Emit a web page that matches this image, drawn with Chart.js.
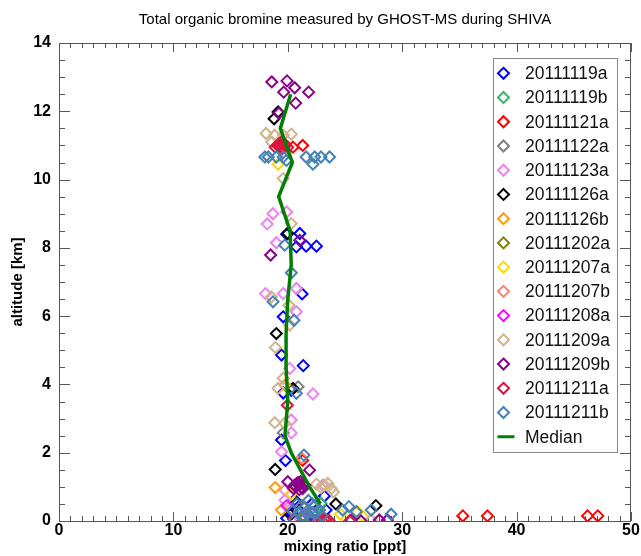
<!DOCTYPE html>
<html>
<head>
<meta charset="utf-8">
<script src="https://cdn.jsdelivr.net/npm/chart.js@4.4.1/dist/chart.umd.min.js"></script>
<style>
  html, body { margin: 0; padding: 0; background: #fff; }
</style>
</head>
<body>
<canvas id="chart" width="641" height="556"></canvas>
<script>
// Flight data, [mixing ratio ppt, altitude km]
const s19a = [[19.9,8.4],[21.05,8.42],[20.75,8.03],[21.6,8.05],[22.5,8.05],[21.25,6.65],[19.6,5.98],[19.45,4.86],[21.35,4.55],[19.6,3.75],[20.3,3.83],[19.45,2.37],[19.8,1.77],[20.6,0.62],[23.2,0.73],[23.35,0.32],[20.35,0.22],[21.5,0.1],[20.9,0.35],[19.9,0.08],[22.1,0.5]];
const s19b = [[22.9,0.52],[22.6,0.2]];
const s21a = [[21.3,11.0],[20.45,10.95],[21.3,1.78],[35.3,0.15],[37.45,0.15],[46.2,0.15],[47.1,0.15],[22.0,0.05]];
const s22a = [[20.9,3.93],[19.6,2.58],[21.2,0.45]];
const s23a = [[18.7,9.0],[18.2,8.7],[19.9,9.05],[19.0,8.15],[18.05,6.66],[19.6,6.66],[20.75,6.81],[20.75,6.13],[20.17,4.47],[22.2,3.72],[20.3,2.96],[20.3,2.58],[19.45,2.03],[19.75,0.91],[19.75,0.61],[20.3,0.37],[23.05,1.05],[21.1,0.05],[22.3,0.2]];
const s26a = [[19.15,11.98],[18.8,11.78],[20.0,8.42],[19.0,5.49],[20.45,3.88],[18.9,1.51],[20.75,0.52],[24.2,0.5],[27.7,0.45],[20.2,0.2]];
const s26b = [[19.75,3.98],[18.9,0.98],[19.45,0.32]];
const s02a = [[21.4,0.12]];
const s07a = [[19.15,10.45],[20.3,0.8],[26.1,0.27],[26.55,0.13],[24.6,0.2]];
const s07b = [[21.2,1.85],[22.6,0.08]];
const s08a = [[21.9,0.15],[19.9,0.45]];
const s09a = [[18.1,11.35],[18.85,11.3],[19.6,11.3],[20.3,11.33],[18.6,11.1],[19.6,10.03],[20.3,8.71],[18.57,6.56],[20.1,6.32],[20.17,5.74],[18.92,5.08],[19.6,4.18],[19.15,3.88],[18.86,2.88],[19.73,2.86],[22.5,1.08],[23.2,1.05],[23.8,0.95],[22.9,0.98],[23.5,1.1],[24.0,0.85],[27.3,0.03]];
const s09b = [[18.6,12.86],[19.93,12.89],[19.64,12.56],[20.6,12.69],[21.82,12.56],[20.69,12.24],[19.23,11.95],[21.04,8.22],[18.5,7.79],[21.9,1.49],[20.0,1.15],[20.6,1.05],[20.9,1.12],[21.2,0.98],[21.5,1.05],[21.0,0.92],[21.35,1.08],[20.7,1.0],[21.0,1.05],[21.3,0.95],[20.8,1.1],[21.1,1.15],[20.5,0.95],[25.55,0.03],[26.4,0.0],[28.0,0.03],[28.7,0.03],[22.5,0.02]];
const s11a = [[18.9,10.95],[19.1,11.0],[19.3,11.0],[19.4,10.95],[19.5,10.9],[19.6,11.05],[19.7,11.05],[19.8,11.0],[20.0,10.95],[19.25,11.05],[19.45,11.1],[19.96,3.39],[23.36,0.03],[23.0,0.0],[23.6,0.02],[23.2,0.05],[25.4,0.0],[20.5,0.05]];
const s11b = [[18.0,10.66],[18.3,10.66],[19.0,10.66],[19.6,10.66],[19.88,10.56],[21.6,10.66],[22.35,10.66],[22.9,10.66],[23.65,10.66],[22.2,10.45],[19.73,8.08],[20.31,7.27],[18.71,6.42],[20.54,5.88],[20.75,3.74],[21.41,1.93],[20.6,0.03],[21.0,0.25],[21.5,0.4],[22.0,0.1],[22.78,0.32],[21.8,0.6],[24.8,0.32],[25.34,0.42],[25.98,0.27],[27.29,0.32],[29.03,0.2],[20.8,0.5],[22.4,0.45],[23.0,0.15],[21.2,0.12],[21.7,0.22],[20.4,0.3],[22.2,0.25]];

const flights = ['20111119a','20111119b','20111121a','20111122a','20111123a','20111126a','20111126b','20111202a','20111207a','20111207b','20111208a','20111209a','20111209b','20111211a','20111211b'];
const flightData = [s19a, s19b, s21a, s22a, s23a, s26a, s26b, s02a, s07a, s07b, s08a, s09a, s09b, s11a, s11b];
const flightColors = ['#0000ff','#3cb371','#ff0000','#808080','#ee82ee','#000000','#ff9a00','#808000','#ffd700','#fa8072','#ff00ff','#d2b48c','#8b008b','#dc143c','#4682b4'];

// Median profile
const medianAlt = [0.5, 1.0, 1.5, 2.0, 2.5, 3.5, 4.5, 5.5, 6.5, 7.5, 8.5, 9.5, 10.5, 11.5, 12.5];
const medianVal = [22.85, 21.9, 21.1, 20.3, 19.75, 20.0, 19.85, 19.85, 20.0, 20.3, 20.2, 19.2, 20.4, 19.35, 20.25];

const FONT = "'Liberation Sans', Arial, Helvetica, sans-serif";

const datasets = flights.map((name, i) => ({
  label: name,
  data: flightData[i].map(p => ({ x: p[0], y: p[1] })),
  pointStyle: 'rectRot',
  pointRadius: 5.5,
  pointHoverRadius: 5.5,
  borderWidth: 2,
  borderColor: flightColors[i],
  backgroundColor: 'rgba(0,0,0,0)',
  order: -i
}));
datasets.push({
  label: 'Median',
  data: medianAlt.map((a, i) => ({ x: medianVal[i], y: a })),
  showLine: true,
  borderColor: '#008000',
  borderWidth: 3.5,
  pointRadius: 0,
  fill: false,
  order: -100
});

// box with inward ticks on all four sides
const framePlugin = {
  id: 'frame',
  beforeDatasetsDraw(chart) {
    const { ctx, chartArea: a, scales: { x, y } } = chart;
    ctx.save();
    ctx.strokeStyle = '#555';
    ctx.lineWidth = 1;
    ctx.strokeRect(a.left + 0.5, a.top + 0.5, a.right - a.left - 1, a.bottom - a.top);
    ctx.beginPath();
    for (let v = 0; v <= 50; v++) {
      const px = Math.round(x.getPixelForValue(v)) + 0.5;
      const len = v % 10 === 0 ? 9 : 5;
      ctx.moveTo(px, a.bottom); ctx.lineTo(px, a.bottom - len);
      ctx.moveTo(px, a.top); ctx.lineTo(px, a.top + len);
    }
    for (let v = 0; v <= 14; v += 0.5) {
      const py = Math.round(y.getPixelForValue(v)) + 0.5;
      const len = v % 2 === 0 ? 11 : 6;
      ctx.moveTo(a.left, py); ctx.lineTo(a.left + len, py);
      ctx.moveTo(a.right, py); ctx.lineTo(a.right - len, py);
    }
    ctx.stroke();
    ctx.restore();
  },
  afterDraw(chart) {
    const { ctx } = chart;
    ctx.save();
    ctx.fillStyle = '#000';
    ctx.font = '15px ' + FONT;
    ctx.textAlign = 'center';
    ctx.textBaseline = 'middle';
    ctx.fillText('Total organic bromine measured by GHOST-MS during SHIVA', 345, 20);

    // legend
    const lx = 493, ly = 58, lw = 124, lh = 394;
    ctx.fillStyle = '#fff';
    ctx.fillRect(lx, ly, lw, lh);
    ctx.strokeStyle = '#888';
    ctx.lineWidth = 1;
    ctx.strokeRect(lx + 0.5, ly + 0.5, lw, lh);
    ctx.font = '17.5px ' + FONT;
    ctx.textAlign = 'left';
    chart.data.datasets.forEach((ds, i) => {
      const cy = 73.3 + i * 24.23;
      const cx = 503.5;
      ctx.strokeStyle = ds.borderColor;
      if (ds.showLine) {
        ctx.lineWidth = 3;
        ctx.beginPath(); ctx.moveTo(cx - 6, cy); ctx.lineTo(cx + 11, cy); ctx.stroke();
      } else {
        ctx.lineWidth = 2;
        ctx.beginPath();
        ctx.moveTo(cx, cy - 5.5); ctx.lineTo(cx + 5.5, cy); ctx.lineTo(cx, cy + 5.5); ctx.lineTo(cx - 5.5, cy);
        ctx.closePath(); ctx.stroke();
      }
      ctx.fillStyle = '#111';
      ctx.fillText(ds.label, 525, cy + 1);
    });
    ctx.restore();
  }
};

new Chart(document.getElementById('chart'), {
  type: 'scatter',
  data: { datasets },
  plugins: [framePlugin],
  options: {
    responsive: false,
    animation: false,
    devicePixelRatio: 1,
    layout: { padding: { left: 0, right: 10, top: 43, bottom: 0 } },
    plugins: { legend: { display: false }, tooltip: { enabled: false }, title: { display: false } },
    scales: {
      x: {
        type: 'linear', min: 0, max: 50,
        afterFit: s => { s.height = 35; },
        ticks: { stepSize: 10, padding: 0, color: '#000', font: { family: FONT, size: 16, weight: 'bold' } },
        grid: { display: false, drawTicks: false },
        border: { display: false },
        title: { display: true, text: 'mixing ratio [ppt]', color: '#000', padding: { top: 0, bottom: 0 }, font: { family: FONT, size: 15, weight: 'bold' } }
      },
      y: {
        type: 'linear', min: 0, max: 14,
        afterFit: s => { s.width = 59; },
        ticks: { stepSize: 2, padding: 8, color: '#000', font: { family: FONT, size: 16, weight: 'bold' } },
        grid: { display: false, drawTicks: false },
        border: { display: false },
        title: { display: true, text: 'altitude [km]', color: '#000', padding: { top: 9, bottom: 0 }, font: { family: FONT, size: 15, weight: 'bold' } }
      }
    }
  }
});
</script>
</body>
</html>
